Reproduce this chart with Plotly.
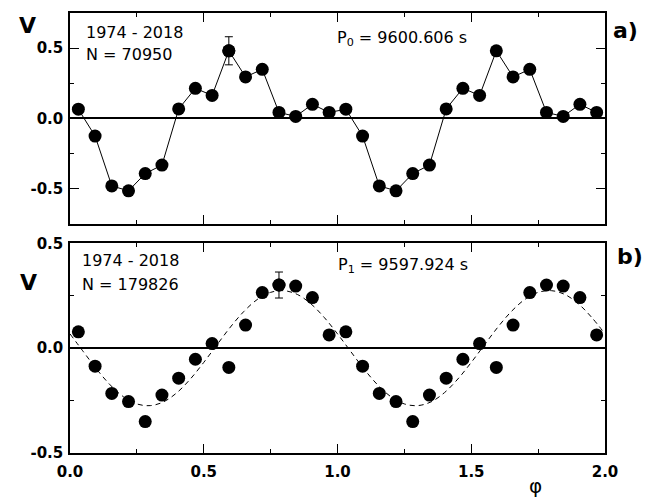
import plotly.graph_objects as go

# ---------------- data ----------------
# phase bin centres for one period (16 bins)
phase_bins = [0.03125, 0.09375, 0.15625, 0.21875, 0.28125, 0.34375, 0.40625, 0.46875,
              0.53125, 0.59375, 0.65625, 0.71875, 0.78125, 0.84375, 0.90625, 0.96875]

# panel a) mean V per phase bin (P0 = 9600.606 s)
v_a = [0.065, -0.126, -0.481, -0.516, -0.393, -0.333, 0.067, 0.214,
       0.163, 0.481, 0.295, 0.349, 0.042, 0.014, 0.100, 0.042]
err_a_index = 9
err_a = 0.10

# panel b) mean V per phase bin (P1 = 9597.924 s)
v_b = [0.078, -0.086, -0.216, -0.255, -0.350, -0.224, -0.143, -0.053,
       0.022, -0.092, 0.110, 0.265, 0.301, 0.296, 0.241, 0.063]
err_b_index = 12
err_b = 0.062

# dashed fitted curve in panel b) for one period
fit_phase = [0.00, 0.05, 0.10, 0.15, 0.20, 0.25, 0.30, 0.35, 0.40, 0.45, 0.50,
             0.55, 0.60, 0.65, 0.70, 0.75, 0.80, 0.85, 0.90, 0.95]
fit_v = [0.068, -0.017, -0.101, -0.175, -0.232, -0.266, -0.274, -0.256, -0.212, -0.147, -0.068,
         0.017, 0.101, 0.175, 0.232, 0.266, 0.274, 0.256, 0.212, 0.147]

x_tickvals = [0.0, 0.5, 1.0, 1.5, 2.0]
x_ticktext = ["0.0", "0.5", "1.0", "1.5", "2.0"]
ya_tickvals = [-0.5, 0.0, 0.5]
ya_ticktext = ["-0.5", "0.0", "0.5"]
yb_tickvals = [-0.5, 0.0, 0.5]
yb_ticktext = ["-0.5", "0.0", "0.5"]

# two periods are shown (phase-folded data repeated)
x2 = phase_bins + [p + 1 for p in phase_bins]
ya2 = v_a + v_a
yb2 = v_b + v_b
fx2 = fit_phase + [p + 1 for p in fit_phase] + [2.0]
fy2 = fit_v + fit_v + [fit_v[0]]

# ---------------- layout helpers ----------------
W, H = 667, 503
ML, MR, MT, MB = 70, 62, 4, 50
PW, PH = W - ML - MR, H - MT - MB


def px(x):
    return (x - ML) / PW


def py(y):
    return (H - MB - y) / PH


FONT = "DejaVu Sans"
BLACK = "black"

fig = go.Figure()

# panel a
fig.add_trace(go.Scatter(x=x2, y=ya2, mode="lines+markers",
                         line=dict(color=BLACK, width=1),
                         marker=dict(color=BLACK, size=13),
                         xaxis="x", yaxis="y", showlegend=False))
fig.add_trace(go.Scatter(x=[phase_bins[err_a_index]], y=[v_a[err_a_index]], mode="markers",
                         marker=dict(color=BLACK, size=13),
                         error_y=dict(type="data", array=[err_a], color=BLACK, thickness=1, width=4),
                         xaxis="x", yaxis="y", showlegend=False))

# panel b
fig.add_trace(go.Scatter(x=fx2, y=fy2, mode="lines", line_shape="spline",
                         line=dict(color=BLACK, width=1, dash="5px,4px"),
                         xaxis="x2", yaxis="y2", showlegend=False))
fig.add_trace(go.Scatter(x=x2, y=yb2, mode="markers",
                         marker=dict(color=BLACK, size=13),
                         xaxis="x2", yaxis="y2", showlegend=False))
fig.add_trace(go.Scatter(x=[phase_bins[err_b_index]], y=[v_b[err_b_index]], mode="markers",
                         marker=dict(color=BLACK, size=13),
                         error_y=dict(type="data", array=[err_b], color=BLACK, thickness=1, width=4),
                         xaxis="x2", yaxis="y2", showlegend=False))

tickfont = dict(family=FONT, size=15, color=BLACK, weight="bold")
common = dict(showline=True, linecolor=BLACK, linewidth=1.5, mirror="allticks",
              ticks="inside", ticklen=9, tickwidth=1.2, tickcolor=BLACK,
              showgrid=False, tickfont=tickfont)
minor = dict(ticks="inside", ticklen=4, dtick=0.25, tick0=0, tickcolor=BLACK, tickwidth=1.2)

top_dom = [py(219), 1]
bot_dom = [0, py(239)]

fig.update_layout(
    width=W, height=H,
    margin=dict(l=ML, r=MR, t=MT, b=MB),
    paper_bgcolor="white", plot_bgcolor="white",
    font=dict(family=FONT, color=BLACK),
    xaxis=dict(range=[0, 2], anchor="y", tickvals=x_tickvals, ticktext=x_ticktext,
               showticklabels=False, zeroline=False, minor=minor, **common),
    yaxis=dict(range=[-0.75, 0.75], domain=top_dom, anchor="x",
               tickvals=ya_tickvals, ticktext=ya_ticktext,
               zeroline=True, zerolinecolor=BLACK, zerolinewidth=1.5,
               ticklabelstandoff=2, minor=minor, **common),
    xaxis2=dict(range=[0, 2], anchor="y2", tickvals=x_tickvals, ticktext=x_ticktext,
                zeroline=False, ticklabelstandoff=4, minor=minor, **common),
    yaxis2=dict(range=[-0.5, 0.5], domain=bot_dom, anchor="x2",
                tickvals=yb_tickvals, ticktext=yb_ticktext,
                zeroline=True, zerolinecolor=BLACK, zerolinewidth=1.5,
                ticklabelstandoff=2, minor=minor, **common),
)

txt = dict(family=FONT, size=16, color=BLACK)
bold_big = dict(family=FONT, size=22, color=BLACK, weight="bold")


def ann(text, x, y, font, xanchor="left"):
    fig.add_annotation(text=text, x=px(x), y=py(y), xref="paper", yref="paper",
                       xanchor=xanchor, yanchor="middle", showarrow=False, font=font)


ann("V", 27, 17, bold_big, "center")
ann("V", 28, 279, bold_big, "center")
ann("a)", 625, 22, bold_big, "center")
ann("b)", 630, 252, bold_big, "center")
ann("1974 - 2018", 84, 24, txt)
ann("N = 70950", 84, 46, txt)
ann("P<sub>0</sub> = 9600.606 s", 335, 30, txt)
ann("1974 - 2018", 80, 257, txt)
ann("N = 179826", 80, 281, txt)
ann("P<sub>1</sub> = 9597.924 s", 336, 262, txt)
ann("φ", 527, 487, dict(family=FONT, size=20, color=BLACK))

fig.write_html("out.html", config={"displayModeBar": False},
               post_script="document.body.style.margin='0';")
